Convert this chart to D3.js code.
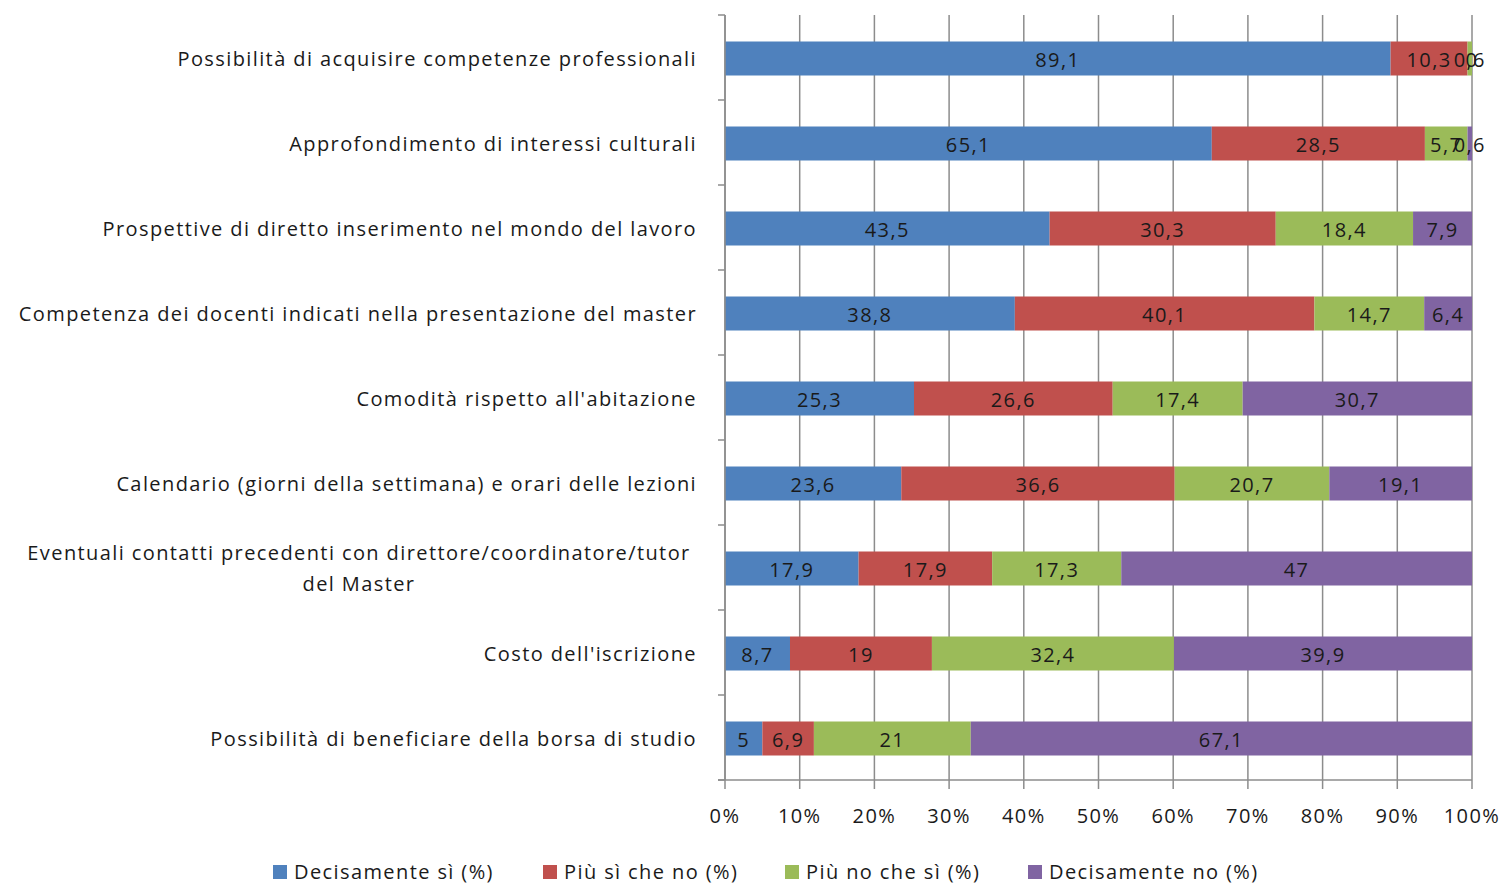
<!DOCTYPE html>
<html>
<head>
<meta charset="utf-8">
<script src="https://cdn.jsdelivr.net/npm/d3@7"></script>
<style>
  body { margin: 0; background: #fff; }
  svg text { font-family: "Open Sans", Lato, sans-serif; fill: #1a1a1a; letter-spacing: 1.4px; }
</style>
</head>
<body>
<div id="chart"></div>
<script>
// categories (top to bottom)
var categories = [
  "Possibilità di acquisire competenze professionali",
  "Approfondimento di interessi culturali",
  "Prospettive di diretto inserimento nel mondo del lavoro",
  "Competenza dei docenti indicati nella presentazione del master",
  "Comodità rispetto all'abitazione",
  "Calendario (giorni della settimana)  e orari delle lezioni",
  "Eventuali contatti  precedenti con direttore/coordinatore/tutor|del Master",
  "Costo dell'iscrizione",
  "Possibilità di beneficiare della borsa di studio"
];
var seriesNames = ["Decisamente sì (%)", "Più sì che no (%)", "Più no che sì (%)", "Decisamente no (%)"];
var decisamenteSi = [89.1, 65.1, 43.5, 38.8, 25.3, 23.6, 17.9, 8.7, 5];
var piuSiCheNo    = [10.3, 28.5, 30.3, 40.1, 26.6, 36.6, 17.9, 19, 6.9];
var piuNoCheSi    = [0.6, 5.7, 18.4, 14.7, 17.4, 20.7, 17.3, 32.4, 21];
var decisamenteNo = [0, 0.6, 7.9, 6.4, 30.7, 19.1, 47, 39.9, 67.1];
var tickLabels = ["0%", "10%", "20%", "30%", "40%", "50%", "60%", "70%", "80%", "90%", "100%"];
var colors = ["#4F81BD", "#C0504D", "#9BBB59", "#8064A2"];

var W = 1505, H = 885;
var mLeft = 725, mRight = 1472, mTop = 15, mBottom = 780;

var svg = d3.select("#chart").append("svg")
    .attr("width", W)
    .attr("height", H);

var keys = ["s0", "s1", "s2", "s3"];
var rows = categories.map(function(c, i) {
  return { cat: c, s0: decisamenteSi[i], s1: piuSiCheNo[i], s2: piuNoCheSi[i], s3: decisamenteNo[i] };
});
var stack = d3.stack().keys(keys).offset(d3.stackOffsetExpand);
var layers = stack(rows);

var x = d3.scaleLinear().domain([0, 1]).range([mLeft, mRight]);
var y = d3.scaleBand().domain(categories).range([mTop, mBottom]).paddingInner(0.6).paddingOuter(0.3);
var yb = d3.scaleLinear().domain([0, categories.length]).range([mTop, mBottom]);

// gridlines + x ticks
svg.append("g").selectAll("line")
  .data(d3.range(0, 11))
  .enter().append("line")
  .attr("x1", function(d) { return x(d / 10); })
  .attr("x2", function(d) { return x(d / 10); })
  .attr("y1", mTop)
  .attr("y2", mBottom + 9)
  .attr("stroke", "#8c8c8c")
  .attr("stroke-width", 1.5);

// y axis ticks at band boundaries
svg.append("g").selectAll("line")
  .data(d3.range(0, categories.length + 1))
  .enter().append("line")
  .attr("x1", mLeft - 7)
  .attr("x2", mLeft)
  .attr("y1", function(d) { return yb(d); })
  .attr("y2", function(d) { return yb(d); })
  .attr("stroke", "#8c8c8c")
  .attr("stroke-width", 1.5);

// bars
var layer = svg.append("g").selectAll("g")
  .data(layers)
  .enter().append("g")
  .attr("fill", function(d, i) { return colors[i]; });

layer.selectAll("rect")
  .data(function(d) { return d; })
  .enter().append("rect")
  .attr("x", function(d) { return x(d[0]); })
  .attr("width", function(d) { return x(d[1]) - x(d[0]); })
  .attr("y", function(d) { return y(d.data.cat) + 1; })
  .attr("height", y.bandwidth());

// axes lines
svg.append("line")
  .attr("x1", mLeft).attr("x2", mLeft).attr("y1", mTop).attr("y2", mBottom)
  .attr("stroke", "#8c8c8c").attr("stroke-width", 1.5);
svg.append("line")
  .attr("x1", mLeft - 7).attr("x2", mRight).attr("y1", mBottom).attr("y2", mBottom)
  .attr("stroke", "#8c8c8c").attr("stroke-width", 1.5);

// data labels
layers.forEach(function(ly, si) {
  svg.append("g").selectAll("text")
    .data(ly)
    .enter().append("text")
    .attr("x", function(d) { return (x(d[0]) + x(d[1])) / 2; })
    .attr("y", function(d) { return y(d.data.cat) + y.bandwidth() / 2 + 2; })
    .attr("dy", "0.36em")
    .attr("text-anchor", "middle")
    .attr("font-size", 20)
    .text(function(d) { return String(d.data[keys[si]]).replace(".", ","); });
});

// x tick labels
svg.append("g").selectAll("text")
  .data(tickLabels)
  .enter().append("text")
  .attr("x", function(d, i) { return x(i / 10); })
  .attr("y", 823)
  .attr("text-anchor", "middle")
  .attr("font-size", 20)
  .text(function(d) { return d; });

// category labels
var catText = svg.append("g").selectAll("text")
  .data(categories)
  .enter().append("text")
  .attr("y", function(d) { return y(d) + y.bandwidth() / 2 + 1; })
  .attr("font-size", 20);

catText.each(function(d) {
  var t = d3.select(this);
  var lines = d.split("|");
  if (lines.length === 1) {
    t.attr("x", 697).attr("text-anchor", "end").attr("dy", "0.35em").text(d);
  } else {
    t.attr("text-anchor", "middle");
    lines.forEach(function(l, i) {
      t.append("tspan")
        .attr("x", 359)
        .attr("dy", i === 0 ? "-0.42em" : "1.55em")
        .text(l);
    });
  }
});

// legend
var legendX = [273, 543, 785, 1028];
var lg = svg.append("g").selectAll("g")
  .data(seriesNames)
  .enter().append("g")
  .attr("transform", function(d, i) { return "translate(" + legendX[i] + ",872)"; });
lg.append("rect")
  .attr("x", 0).attr("y", -7)
  .attr("width", 14).attr("height", 14)
  .attr("fill", function(d, i) { return colors[i]; });
lg.append("text")
  .attr("x", 21)
  .attr("dy", "0.36em")
  .attr("font-size", 20)
  .text(function(d) { return d; });
</script>
</body>
</html>
